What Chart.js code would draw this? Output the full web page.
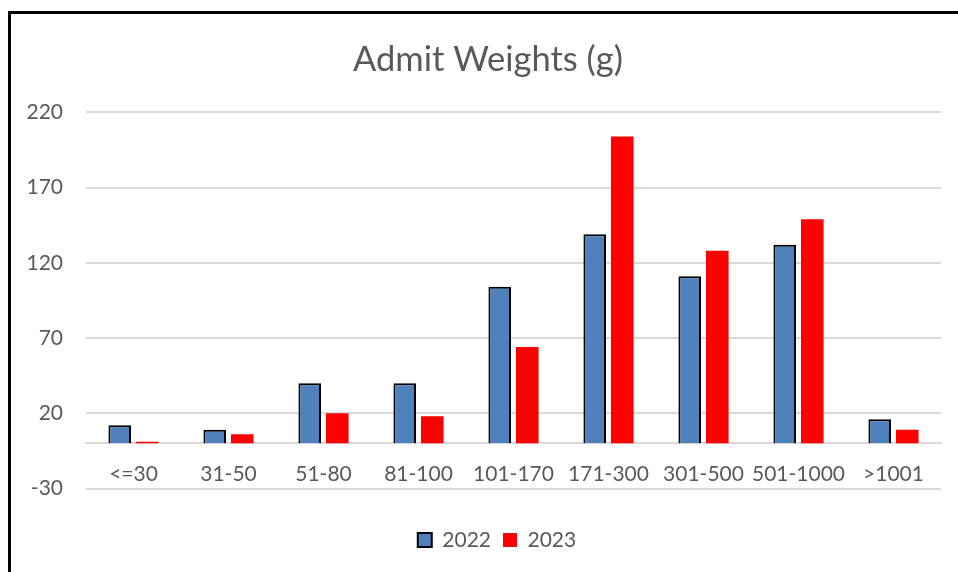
<!DOCTYPE html>
<html>
<head>
<meta charset="utf-8">
<script src="https://cdn.jsdelivr.net/npm/chart.js@4.4.1/dist/chart.umd.min.js"></script>
<style>
  html, body { margin: 0; padding: 0; background: #fff; overflow: hidden; }
  #frame {
    position: absolute; left: 8px; top: 11px;
    width: 960px; height: 580px;
    border: 3px solid #000; background: #fff;
  }
  #wrap { position: absolute; left: 0; top: 0; width: 947px; height: 558px; }
</style>
</head>
<body>
<div id="frame"><div id="wrap"><canvas id="admitChart"></canvas></div></div>
<script>
// Chart data
const categories = ['<=30', '31-50', '51-80', '81-100', '101-170', '171-300', '301-500', '501-1000', '>1001'];
const values2022 = [12, 9, 40, 40, 104, 139, 111, 132, 16];
const values2023 = [1, 6, 20, 18, 64, 204, 128, 149, 9];
const yTicks = [-30, 20, 70, 120, 170, 220];

const textGrey = '#595959';
const gridGrey = '#d9d9d9';

Chart.defaults.font.family = 'Lato, sans-serif';
Chart.defaults.color = textGrey;

// title and legend sit a little right of the canvas centre in the original
const blockShift = {
    id: 'blockShift',
    afterLayout(chart) {
        chart.legend.left += 21;
        chart.legend.right += 21;
        chart.titleBlock.left += 12;
        chart.titleBlock.right += 12;
    }
};

const initAdmitChart = () => {
    const ctx = document.getElementById('admitChart').getContext('2d');
    return new Chart(ctx, {
        type: 'bar',
        data: {
            labels: categories,
            datasets: [{
                label: '2022',
                data: values2022,
                backgroundColor: '#4f81bd',
                borderColor: '#000000',
                borderWidth: 2,
                xAxisID: 'x',
                categoryPercentage: 0.58,
                barPercentage: 0.82
            }, {
                label: '2023',
                data: values2023,
                backgroundColor: '#ff0000',
                borderWidth: 0,
                xAxisID: 'x',
                categoryPercentage: 0.58,
                barPercentage: 0.82
            }]
        },
        options: {
            responsive: true,
            maintainAspectRatio: false,
            animation: false,
            layout: {
                padding: { left: 0, right: 17, top: 0, bottom: 11.5 }
            },
            plugins: {
                title: {
                    display: true,
                    text: 'Admit Weights (g)',
                    color: textGrey,
                    font: { size: 34.5, weight: 'normal' },
                    padding: { top: 25, bottom: 31.9 }
                },
                legend: {
                    position: 'bottom',
                    labels: {
                        boxWidth: 14,
                        boxHeight: 14,
                        padding: 12,
                        color: textGrey,
                        font: { size: 21 }
                    }
                },
                tooltip: { enabled: false }
            },
            scales: {
                x: {
                    type: 'category',
                    position: { y: 0 },
                    grid: { display: false, drawTicks: false },
                    border: { display: true, color: gridGrey, width: 2 },
                    ticks: { padding: 18, font: { size: 21 }, color: textGrey, maxRotation: 0, autoSkip: false }
                },
                gap: {
                    type: 'category',
                    position: 'bottom',
                    grid: { display: false, drawTicks: false },
                    border: { display: false },
                    ticks: { display: false },
                    afterFit: (scale) => { scale.height = 29; }
                },
                y: {
                    min: -30,
                    max: 220,
                    grid: { color: gridGrey, lineWidth: 2, drawTicks: false },
                    border: { display: false },
                    ticks: { padding: 23, font: { size: 21 }, color: textGrey },
                    afterBuildTicks: (scale) => {
                        scale.ticks = yTicks.map(v => ({ value: v }));
                    },
                    afterFit: (scale) => { scale.width = 75; }
                }
            }
        },
        plugins: [blockShift]
    });
};

document.addEventListener('DOMContentLoaded', () => {
    initAdmitChart();
});
</script>
</body>
</html>
